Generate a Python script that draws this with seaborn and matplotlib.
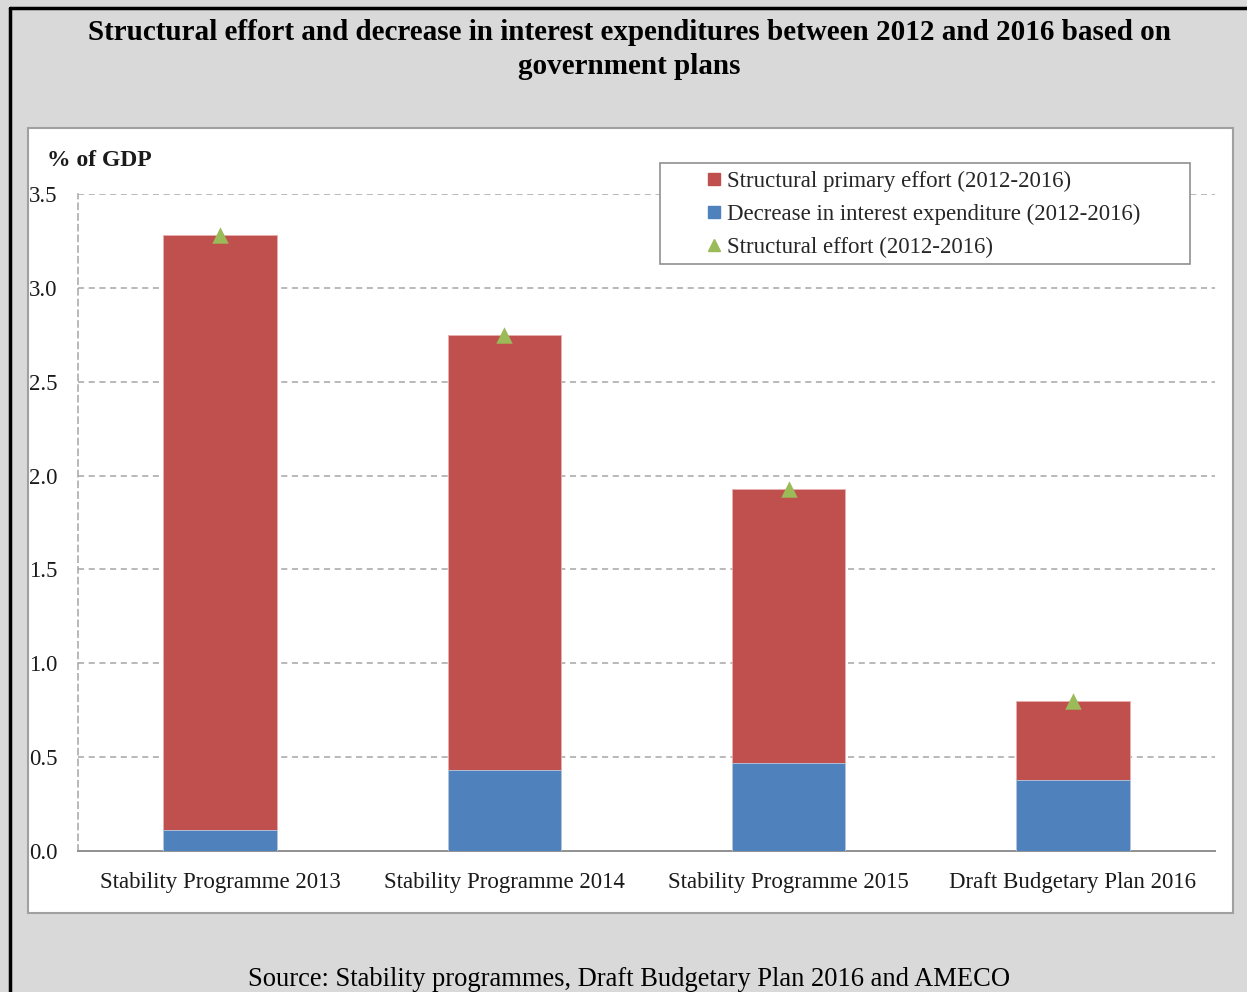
import matplotlib
matplotlib.use("Agg")
import matplotlib.pyplot as plt
import seaborn as sns
import pandas as pd
from matplotlib.patches import Rectangle
from matplotlib.lines import Line2D

categories = ["Stability Programme 2013", "Stability Programme 2014",
              "Stability Programme 2015", "Draft Budgetary Plan 2016"]
decrease_interest = [0.11, 0.43, 0.47, 0.38]
primary_effort = [3.17, 2.32, 1.46, 0.42]
structural_effort = [3.28, 2.75, 1.93, 0.80]
yticks = [0.0, 0.5, 1.0, 1.5, 2.0, 2.5, 3.0, 3.5]

RED = "#C0504D"
BLUE = "#4F81BD"
GREEN = "#9BBB59"
GRID = "#a6a6a6"

sns.set_theme(style="white")
plt.rcParams["font.family"] = ["Liberation Serif", "DejaVu Serif"]

df = pd.DataFrame({
    "cat": categories,
    "blue": decrease_interest,
    "red": primary_effort,
    "effort": structural_effort,
})
df["stack"] = df["blue"] + df["red"]

W, H = 1247, 992
fig = plt.figure(figsize=(W / 100, H / 100), dpi=100)
fig.patch.set_facecolor("#d9d9d9")

# outer black frame (top & left)
fig.add_artist(Line2D([10 / W, 10 / W], [0, 1 - 8 / H], color="black", lw=2.5,
                      transform=fig.transFigure))
fig.add_artist(Line2D([10 / W, 1], [1 - 8 / H, 1 - 8 / H], color="black", lw=2.5,
                      transform=fig.transFigure))

# white chart panel
fig.add_artist(Rectangle((28 / W, 1 - 913 / H), 1205 / W, 785 / H,
                         transform=fig.transFigure, facecolor="white",
                         edgecolor="#a0a0a0", lw=1.5, zorder=0))

ax = fig.add_axes([78 / W, 1 - 851 / H, (1215 - 78) / W, (851 - 194) / H])
ax.set_facecolor("none")

sns.barplot(data=df, x="cat", y="stack", color=RED, width=0.4, ax=ax,
            edgecolor="#e8b0ae", linewidth=0.6, saturation=1, zorder=3)
sns.barplot(data=df, x="cat", y="blue", color=BLUE, width=0.4, ax=ax,
            edgecolor="#b8cce4", linewidth=0.6, saturation=1, zorder=4)
sns.scatterplot(data=df, x="cat", y="effort", marker="^", s=140, color=GREEN,
                edgecolor=GREEN, linewidth=0, ax=ax, zorder=5)

ax.set_xlim(-0.5, 3.5)
ax.set_ylim(0, 3.5)
ax.set_xlabel("")
ax.set_ylabel("")

ax.set_yticks(yticks)
ax.set_yticklabels([f"{v:.1f}" for v in yticks], fontsize=16.5)
for y in yticks[1:]:
    ax.axhline(y, color=GRID, lw=1.1, ls=(0, (4, 3)), zorder=1)

ax.set_xticks(range(len(categories)))
ax.set_xticklabels(categories, fontsize=16.5)
ax.set_xticks([0.5, 1.5, 2.5, 3.5], minor=True)
ax.tick_params(axis="x", which="major", length=0, pad=15, labelcolor="#1a1a1a")
ax.tick_params(axis="x", which="minor", length=7, width=1.2, color="#909090",
               direction="out")
ax.tick_params(axis="y", which="major", length=9, width=1.2, color="#909090",
               direction="inout", pad=10, labelcolor="#1a1a1a")

for s in ["top", "right"]:
    ax.spines[s].set_visible(False)
ax.spines["left"].set_color(GRID)
ax.spines["left"].set_linestyle((0, (4, 3)))
ax.spines["left"].set_linewidth(1.1)
ax.spines["bottom"].set_color("#909090")
ax.spines["bottom"].set_linewidth(1.4)

# title
fig.text(629 / W, 1 - 19 / H,
         "Structural effort and decrease in interest expenditures between 2012 and 2016 based on\ngovernment plans",
         ha="center", va="top", fontsize=21, fontweight="bold",
         linespacing=1.32, color="black")

fig.text(47 / W, 1 - 166 / H, "% of GDP", fontsize=17, fontweight="bold",
         ha="left", va="baseline", color="#1a1a1a")

# source
fig.text(629 / W, 1 - 986 / H,
         "Source: Stability programmes, Draft Budgetary Plan 2016 and AMECO",
         ha="center", va="baseline", fontsize=19.1, color="black")

# legend frame drawn manually
fig.add_artist(Rectangle((660 / W, 1 - 264 / H), 530 / W, 101 / H,
                         transform=fig.transFigure, facecolor="white",
                         edgecolor="#909090", lw=1.2, zorder=6))

handles = [
    Line2D([], [], marker="s", ls="none", color=RED, markersize=8),
    Line2D([], [], marker="s", ls="none", color=BLUE, markersize=8),
    Line2D([], [], marker="^", ls="none", color=GREEN, markersize=9),
]
labels = ["Structural primary effort (2012-2016)",
          "Decrease in interest expenditure (2012-2016)",
          "Structural effort (2012-2016)"]
leg = fig.legend(handles, labels,
                 bbox_to_anchor=(696 / W, 1 - 164 / H),
                 loc="upper left", frameon=False,
                 fontsize=16.5, handletextpad=0.05, handlelength=1.0,
                 borderpad=0.3, labelspacing=0.52, borderaxespad=0)
leg.set_zorder(7)

fig.savefig("out.png", dpi=100, facecolor=fig.get_facecolor())
